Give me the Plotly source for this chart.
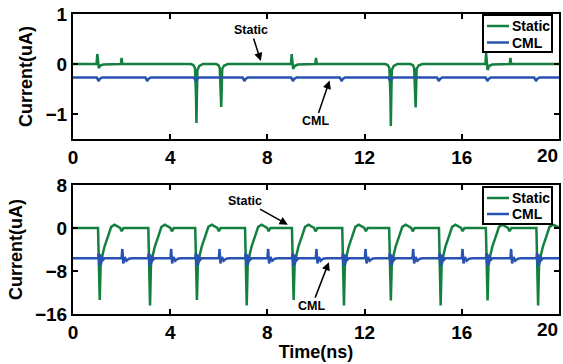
import plotly.graph_objects as go

W, H = 563, 364

# ---------------- data ----------------
# Top panel, Static
top_static_t = [0, 0.97, 1.0, 1.03, 1.06, 1.12, 1.25, 1.97, 2.0, 2.03,
                4.85, 4.95, 5.02, 5.06, 5.08, 5.10, 5.12, 5.2, 5.35,
                5.88, 5.98, 6.04, 6.08, 6.10, 6.12, 6.14, 6.22, 6.38,
                8.97, 9.0, 9.03, 9.06, 9.12, 9.25, 9.97, 10.0, 10.03,
                12.85, 12.95, 13.02, 13.06, 13.08, 13.10, 13.12, 13.2, 13.35,
                13.88, 13.98, 14.04, 14.08, 14.10, 14.12, 14.14, 14.22, 14.38,
                16.97, 17.0, 17.03, 17.06, 17.12, 17.25, 17.97, 18.0, 18.03, 20]
top_static_v = [0, 0, 0.2, 0.05, -0.08, -0.03, -0.01, 0, 0.12, 0,
                0, -0.02, -0.08, -0.6, -1.18, -0.6, -0.12, -0.04, 0,
                0, -0.02, -0.08, -0.5, -0.86, -0.5, -0.1, -0.03, 0,
                0, 0.2, 0.05, -0.1, -0.04, -0.01, 0, 0.12, 0,
                0, -0.02, -0.08, -0.6, -1.24, -0.6, -0.12, -0.04, 0,
                0, -0.02, -0.08, -0.5, -0.87, -0.5, -0.1, -0.03, 0,
                0, 0.22, 0.05, -0.12, -0.04, -0.01, 0, 0.12, 0, 0]

# Top panel, CML
top_cml_t = [0,
             0.98, 1.05, 1.10, 1.2,
             2.98, 3.05, 3.10, 3.2,
             4.98, 5.05, 5.10, 5.2,
             6.98, 7.05, 7.10, 7.2,
             8.98, 9.05, 9.10, 9.2,
             10.98, 11.05, 11.10, 11.2,
             12.98, 13.05, 13.10, 13.2,
             14.98, 15.05, 15.10, 15.2,
             16.98, 17.05, 17.10, 17.2,
             18.98, 19.05, 19.10, 19.2,
             20]
top_cml_v = [-0.27,
             -0.27, -0.34, -0.30, -0.27,
             -0.27, -0.34, -0.30, -0.27,
             -0.27, -0.34, -0.30, -0.27,
             -0.27, -0.34, -0.30, -0.27,
             -0.27, -0.34, -0.30, -0.27,
             -0.27, -0.34, -0.30, -0.27,
             -0.27, -0.34, -0.30, -0.27,
             -0.27, -0.34, -0.30, -0.27,
             -0.27, -0.34, -0.30, -0.27,
             -0.27, -0.34, -0.30, -0.27,
             -0.27]

# Bottom panel, Static
bot_static_t = [0,
                1.03, 1.10, 1.14, 1.20, 1.30, 1.43, 1.57, 1.71, 1.94, 2.00, 2.08,
                3.10, 3.17, 3.21, 3.27, 3.37, 3.50, 3.64, 3.78, 4.01, 4.07, 4.15,
                5.03, 5.10, 5.14, 5.20, 5.30, 5.43, 5.57, 5.71, 5.94, 6.00, 6.08,
                7.08, 7.15, 7.19, 7.25, 7.35, 7.48, 7.62, 7.76, 7.99, 8.05, 8.13,
                9.01, 9.08, 9.12, 9.18, 9.28, 9.41, 9.55, 9.69, 9.92, 9.98, 10.06,
                11.08, 11.15, 11.19, 11.25, 11.35, 11.48, 11.62, 11.76, 11.99, 12.05, 12.13,
                13.01, 13.08, 13.12, 13.18, 13.28, 13.41, 13.55, 13.69, 13.92, 13.98, 14.06,
                15.06, 15.13, 15.17, 15.23, 15.33, 15.46, 15.60, 15.74, 15.97, 16.03, 16.11,
                16.99, 17.06, 17.10, 17.16, 17.26, 17.39, 17.53, 17.67, 17.90, 17.96, 18.04,
                19.07, 19.14, 19.18, 19.24, 19.34, 19.47, 19.61, 19.75, 19.98, 20.0]
bot_static_v = [0,
                0, -13.4, -6.5, -5.3, -3.4, -1.7, 0.2, 0.6, 0.0, -0.6, 0.0,
                0, -14.4, -6.5, -5.3, -3.4, -1.7, 0.2, 0.6, 0.0, -0.6, 0.0,
                0, -13.4, -6.5, -5.3, -3.4, -1.7, 0.2, 0.6, 0.0, -0.6, 0.0,
                0, -14.4, -6.5, -5.3, -3.4, -1.7, 0.2, 0.6, 0.0, -0.6, 0.0,
                0, -13.4, -6.5, -5.3, -3.4, -1.7, 0.2, 0.6, 0.0, -0.6, 0.0,
                0, -14.4, -6.5, -5.3, -3.4, -1.7, 0.2, 0.6, 0.0, -0.6, 0.0,
                0, -13.5, -6.5, -5.3, -3.4, -1.7, 0.2, 0.6, 0.0, -0.6, 0.0,
                0, -14.4, -6.5, -5.3, -3.4, -1.7, 0.2, 0.6, 0.0, -0.6, 0.0,
                0, -13.5, -6.5, -5.3, -3.4, -1.7, 0.2, 0.6, 0.0, -0.6, 0.0,
                0, -14.4, -6.5, -5.3, -3.4, -1.7, 0.2, 0.6, 0.1, 0.1]

# Bottom panel, CML
bot_cml_t = [0,
             1.03, 1.06, 1.09, 1.12, 1.15, 1.19, 1.24, 1.30,
             2.00, 2.03, 2.07, 2.13, 2.20, 2.31, 2.43,
             3.09, 3.12, 3.15, 3.18, 3.21, 3.25, 3.30, 3.36,
             4.01, 4.04, 4.08, 4.14, 4.21, 4.32, 4.44,
             5.03, 5.06, 5.09, 5.12, 5.15, 5.19, 5.24, 5.30,
             6.00, 6.03, 6.07, 6.13, 6.20, 6.31, 6.43,
             7.08, 7.11, 7.14, 7.17, 7.20, 7.24, 7.29, 7.35,
             8.00, 8.03, 8.07, 8.13, 8.20, 8.31, 8.43,
             9.01, 9.04, 9.07, 9.10, 9.13, 9.17, 9.22, 9.28,
             9.99, 10.02, 10.06, 10.12, 10.19, 10.30, 10.42,
             11.08, 11.11, 11.14, 11.17, 11.20, 11.24, 11.29, 11.35,
             12.01, 12.04, 12.08, 12.14, 12.21, 12.32, 12.44,
             13.01, 13.04, 13.07, 13.10, 13.13, 13.17, 13.22, 13.28,
             13.97, 14.00, 14.04, 14.10, 14.17, 14.28, 14.40,
             15.06, 15.09, 15.12, 15.15, 15.18, 15.22, 15.27, 15.33,
             16.00, 16.03, 16.07, 16.13, 16.20, 16.31, 16.43,
             16.99, 17.02, 17.05, 17.08, 17.11, 17.15, 17.20, 17.26,
             18.00, 18.03, 18.07, 18.13, 18.20, 18.31, 18.43,
             19.07, 19.10, 19.13, 19.16, 19.19, 19.23, 19.28, 19.34,
             20.0]
bot_cml_v = [-5.65,
             -5.65, -4.7, -7.0, -4.9, -6.8, -5.3, -5.9, -5.65,
             -5.65, -3.9, -6.6, -5.4, -6.1, -5.7, -5.65,
             -5.65, -4.7, -7.0, -4.9, -6.8, -5.3, -5.9, -5.65,
             -5.65, -3.9, -6.6, -5.4, -6.1, -5.7, -5.65,
             -5.65, -4.7, -7.0, -4.9, -6.8, -5.3, -5.9, -5.65,
             -5.65, -3.9, -6.6, -5.4, -6.1, -5.7, -5.65,
             -5.65, -4.7, -7.0, -4.9, -6.8, -5.3, -5.9, -5.65,
             -5.65, -3.9, -6.6, -5.4, -6.1, -5.7, -5.65,
             -5.65, -4.7, -7.0, -4.9, -6.8, -5.3, -5.9, -5.65,
             -5.65, -3.9, -6.6, -5.4, -6.1, -5.7, -5.65,
             -5.65, -4.7, -7.0, -4.9, -6.8, -5.3, -5.9, -5.65,
             -5.65, -3.9, -6.6, -5.4, -6.1, -5.7, -5.65,
             -5.65, -4.7, -7.0, -4.9, -6.8, -5.3, -5.9, -5.65,
             -5.65, -3.9, -6.6, -5.4, -6.1, -5.7, -5.65,
             -5.65, -4.7, -7.0, -4.9, -6.8, -5.3, -5.9, -5.65,
             -5.65, -3.9, -6.6, -5.4, -6.1, -5.7, -5.65,
             -5.65, -4.7, -7.0, -4.9, -6.8, -5.3, -5.9, -5.65,
             -5.65, -3.9, -6.6, -5.4, -6.1, -5.7, -5.65,
             -5.65, -4.7, -7.0, -4.9, -6.8, -5.3, -5.9, -5.65,
             -5.65]

x_ticks = [0, 4, 8, 12, 16, 20]
x_tick_labels = ["0", "4", "8", "12", "16", ""]   # last one drawn right-aligned below
last_x_label = "20"
top_y_ticks = [-1, 0, 1]
bot_y_ticks = [-16, -8, 0, 8]
series_names = ["Static", "CML"]

# ---------------- styling ----------------
GREEN = "#13803f"
BLUE = "#2852b2"
FONT = "Liberation Sans"


def px(x):
    return x / W


def py(y):
    return 1 - y / H


fig = go.Figure()
fig.add_trace(go.Scatter(x=top_static_t, y=top_static_v, mode="lines", name=series_names[0],
                         line=dict(color=GREEN, width=2.5), xaxis="x", yaxis="y", showlegend=False))
fig.add_trace(go.Scatter(x=top_cml_t, y=top_cml_v, mode="lines", name=series_names[1],
                         line=dict(color=BLUE, width=2.5), xaxis="x", yaxis="y", showlegend=False))
fig.add_trace(go.Scatter(x=bot_static_t, y=bot_static_v, mode="lines", name=series_names[0],
                         line=dict(color=GREEN, width=2.5), xaxis="x2", yaxis="y2", showlegend=False))
fig.add_trace(go.Scatter(x=bot_cml_t, y=bot_cml_v, mode="lines", name=series_names[1],
                         line=dict(color=BLUE, width=2.5), xaxis="x2", yaxis="y2", showlegend=False))

tickfont = dict(family=FONT, size=19, color="black", weight="bold")
titlefont = dict(family=FONT, size=18, color="black", weight="bold")
common = dict(showline=True, linecolor="black", linewidth=2, mirror="ticks",
              ticks="inside", ticklen=5, tickwidth=1.5, tickcolor="black",
              showgrid=False, zeroline=False, tickfont=tickfont, automargin=False)

xdom = [px(73), px(559)]
fig.update_layout(
    width=W, height=H, autosize=False,
    margin=dict(l=0, r=0, t=0, b=0, pad=0),
    paper_bgcolor="white", plot_bgcolor="white",
    xaxis=dict(domain=xdom, range=[0, 20], tickvals=x_ticks, ticktext=x_tick_labels, anchor="y", **common),
    yaxis=dict(domain=[py(139), py(14)], range=[-1.5, 1], tickvals=top_y_ticks, anchor="x",
               title=dict(text="Current(uA)", font=titlefont, standoff=8), **common),
    xaxis2=dict(domain=xdom, range=[0, 20], tickvals=x_ticks, ticktext=x_tick_labels, anchor="y2",
                title=dict(text="Time(ns)", font=titlefont, standoff=4), **common),
    yaxis2=dict(domain=[py(314), py(185)], range=[-16, 8], tickvals=bot_y_ticks, anchor="x2",
                title=dict(text="Current(uA)", font=titlefont, standoff=8), **common),
)

# last x tick label, kept inside the page (right-aligned to the axis end)
for yy in (155, 329):
    fig.add_annotation(x=px(560), y=py(yy), xref="paper", yref="paper", text=last_x_label,
                       showarrow=False, xanchor="right", yanchor="middle", font=tickfont)

# ---------- arrow annotations ----------
ann_font = dict(family=FONT, size=12.5, color="black", weight="bold")
arrow = dict(showarrow=True, arrowhead=2, arrowsize=1.1, arrowwidth=1.5, arrowcolor="black", standoff=0)
fig.add_annotation(x=7.73, y=0.06, xref="x", yref="y", ax=-10, ay=-31, text="Static", font=ann_font, **arrow)
fig.add_annotation(x=10.56, y=-0.33, xref="x", yref="y", ax=-14, ay=41, text="CML", font=ann_font, **arrow)
fig.add_annotation(x=8.84, y=0.62, xref="x2", yref="y2", ax=-43, ay=-24, text="Static", font=ann_font, **arrow)
fig.add_annotation(x=10.53, y=-6.35, xref="x2", yref="y2", ax=-17, ay=44, text="CML", font=ann_font, **arrow)

# ---------- legends (box, line samples, labels) ----------
leg_font = dict(family=FONT, size=14, color="black", weight="bold")
for top, bottom, y1, y2 in [(15, 52, 26, 42.5), (187, 224, 198, 214)]:
    fig.add_shape(type="rect", xref="paper", yref="paper", x0=px(483), x1=px(552),
                  y0=py(bottom), y1=py(top), line=dict(color="black", width=2),
                  fillcolor="white", layer="above")
    for yy, col, name in [(y1, GREEN, series_names[0]), (y2, BLUE, series_names[1])]:
        fig.add_shape(type="line", xref="paper", yref="paper", x0=px(487), x1=px(509),
                      y0=py(yy), y1=py(yy), line=dict(color=col, width=2.5), layer="above")
        fig.add_annotation(x=px(510), y=py(yy), xref="paper", yref="paper", text=name,
                           showarrow=False, xanchor="left", yanchor="middle", font=leg_font)

fig.write_html("out.html")
